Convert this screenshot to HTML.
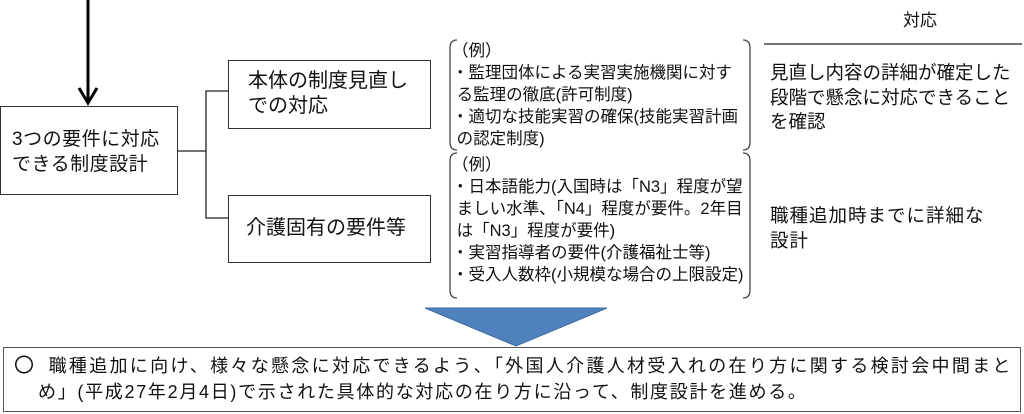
<!DOCTYPE html>
<html><head><meta charset="utf-8"><style>
html,body{margin:0;padding:0;background:#fff;}
body{width:1024px;height:414px;position:relative;overflow:hidden;font-family:"Liberation Sans","Noto Sans CJK JP",sans-serif;color:#111;}
.a{position:absolute;white-space:nowrap;}
.box{position:absolute;border:1.5px solid #333;box-sizing:border-box;background:#fff;}
</style></head><body>
<svg class="a" style="left:0;top:0" width="1024" height="414">
<line x1="88" y1="0" x2="88" y2="100" stroke="#000" stroke-width="3"/>
<polyline points="79,88 88,103 97,88" fill="none" stroke="#000" stroke-width="3"/>
<polyline points="177,151 206,151" fill="none" stroke="#222" stroke-width="1.3"/>
<polyline points="228,91 206,91 206,218 228,218" fill="none" stroke="#222" stroke-width="1.3"/>
<path d="M457,40 Q450,40 450,48 L450,142 Q450,150 457,150" fill="none" stroke="#444" stroke-width="1.3"/>
<path d="M743,40 Q750,40 750,48 L750,142 Q750,150 743,150" fill="none" stroke="#444" stroke-width="1.3"/>
<path d="M457,153 Q450,153 450,161 L450,290 Q450,298 457,298" fill="none" stroke="#444" stroke-width="1.3"/>
<path d="M743,153 Q750,153 750,161 L750,290 Q750,298 743,298" fill="none" stroke="#444" stroke-width="1.3"/>
<line x1="764" y1="44" x2="1022" y2="44" stroke="#222" stroke-width="1.3"/>
<polygon points="425,308 607,308 516,346" fill="#4f81bd" stroke="#3a6aa0" stroke-width="1"/>
</svg>
<div class="box" style="left:0;top:106px;width:178px;height:89px;"></div>
<div class="a" style="left:12px;top:127px;font-size:19px;line-height:25px;letter-spacing:0.5px;">3つの要件に対応<br>できる制度設計</div>
<div class="box" style="left:228px;top:60px;width:203px;height:69px;"></div>
<div class="a" style="left:248px;top:69px;font-size:20px;line-height:25px;">本体の制度見直し<br>での対応</div>
<div class="box" style="left:228px;top:195px;width:203px;height:68px;"></div>
<div class="a" style="left:246px;top:216px;font-size:20px;line-height:25px;">介護固有の要件等</div>
<div class="a" style="left:452px;top:40px;font-size:16.5px;line-height:22px;">（例）<br>・監理団体による実習実施機関に対す<br>&nbsp;る監理の徹底(許可制度)<br>・適切な技能実習の確保(技能実習計画<br>&nbsp;の認定制度)</div>
<div class="a" style="left:452px;top:154px;font-size:16.5px;line-height:22px;">（例）<br>・日本語能力(入国時は「N3」程度が望<br>&nbsp;ましい水準、「N4」程度が要件。2年目<br>&nbsp;は「N3」程度が要件)<br>・実習指導者の要件(介護福祉士等)<br>・受入人数枠(小規模な場合の上限設定)</div>
<div class="a" style="left:903px;top:10px;font-size:17px;line-height:22px;">対応</div>
<div class="a" style="left:770px;top:61px;font-size:18.5px;line-height:24.5px;">見直し内容の詳細が確定した<br>段階で懸念に対応できること<br>を確認</div>
<div class="a" style="left:770px;top:203px;font-size:18.5px;line-height:25px;letter-spacing:1px;">職種追加時までに詳細な<br>設計</div>
<div class="box" style="left:3px;top:347px;width:1018px;height:65px;border-color:#555;"></div>
<div class="a" style="left:14px;top:353px;font-size:18px;line-height:26px;letter-spacing:2.3px;"><span style="font-size:20px;letter-spacing:0">〇</span>&nbsp; 職種追加に向け、様々な懸念に対応できるよう、「外国人介護人材受入れの在り方に関する検討会中間まと</div>
<div class="a" style="left:38px;top:379px;font-size:18px;line-height:26px;letter-spacing:1.7px;">め」(平成27年2月4日)で示された具体的な対応の在り方に沿って、制度設計を進める。</div>
</body></html>
